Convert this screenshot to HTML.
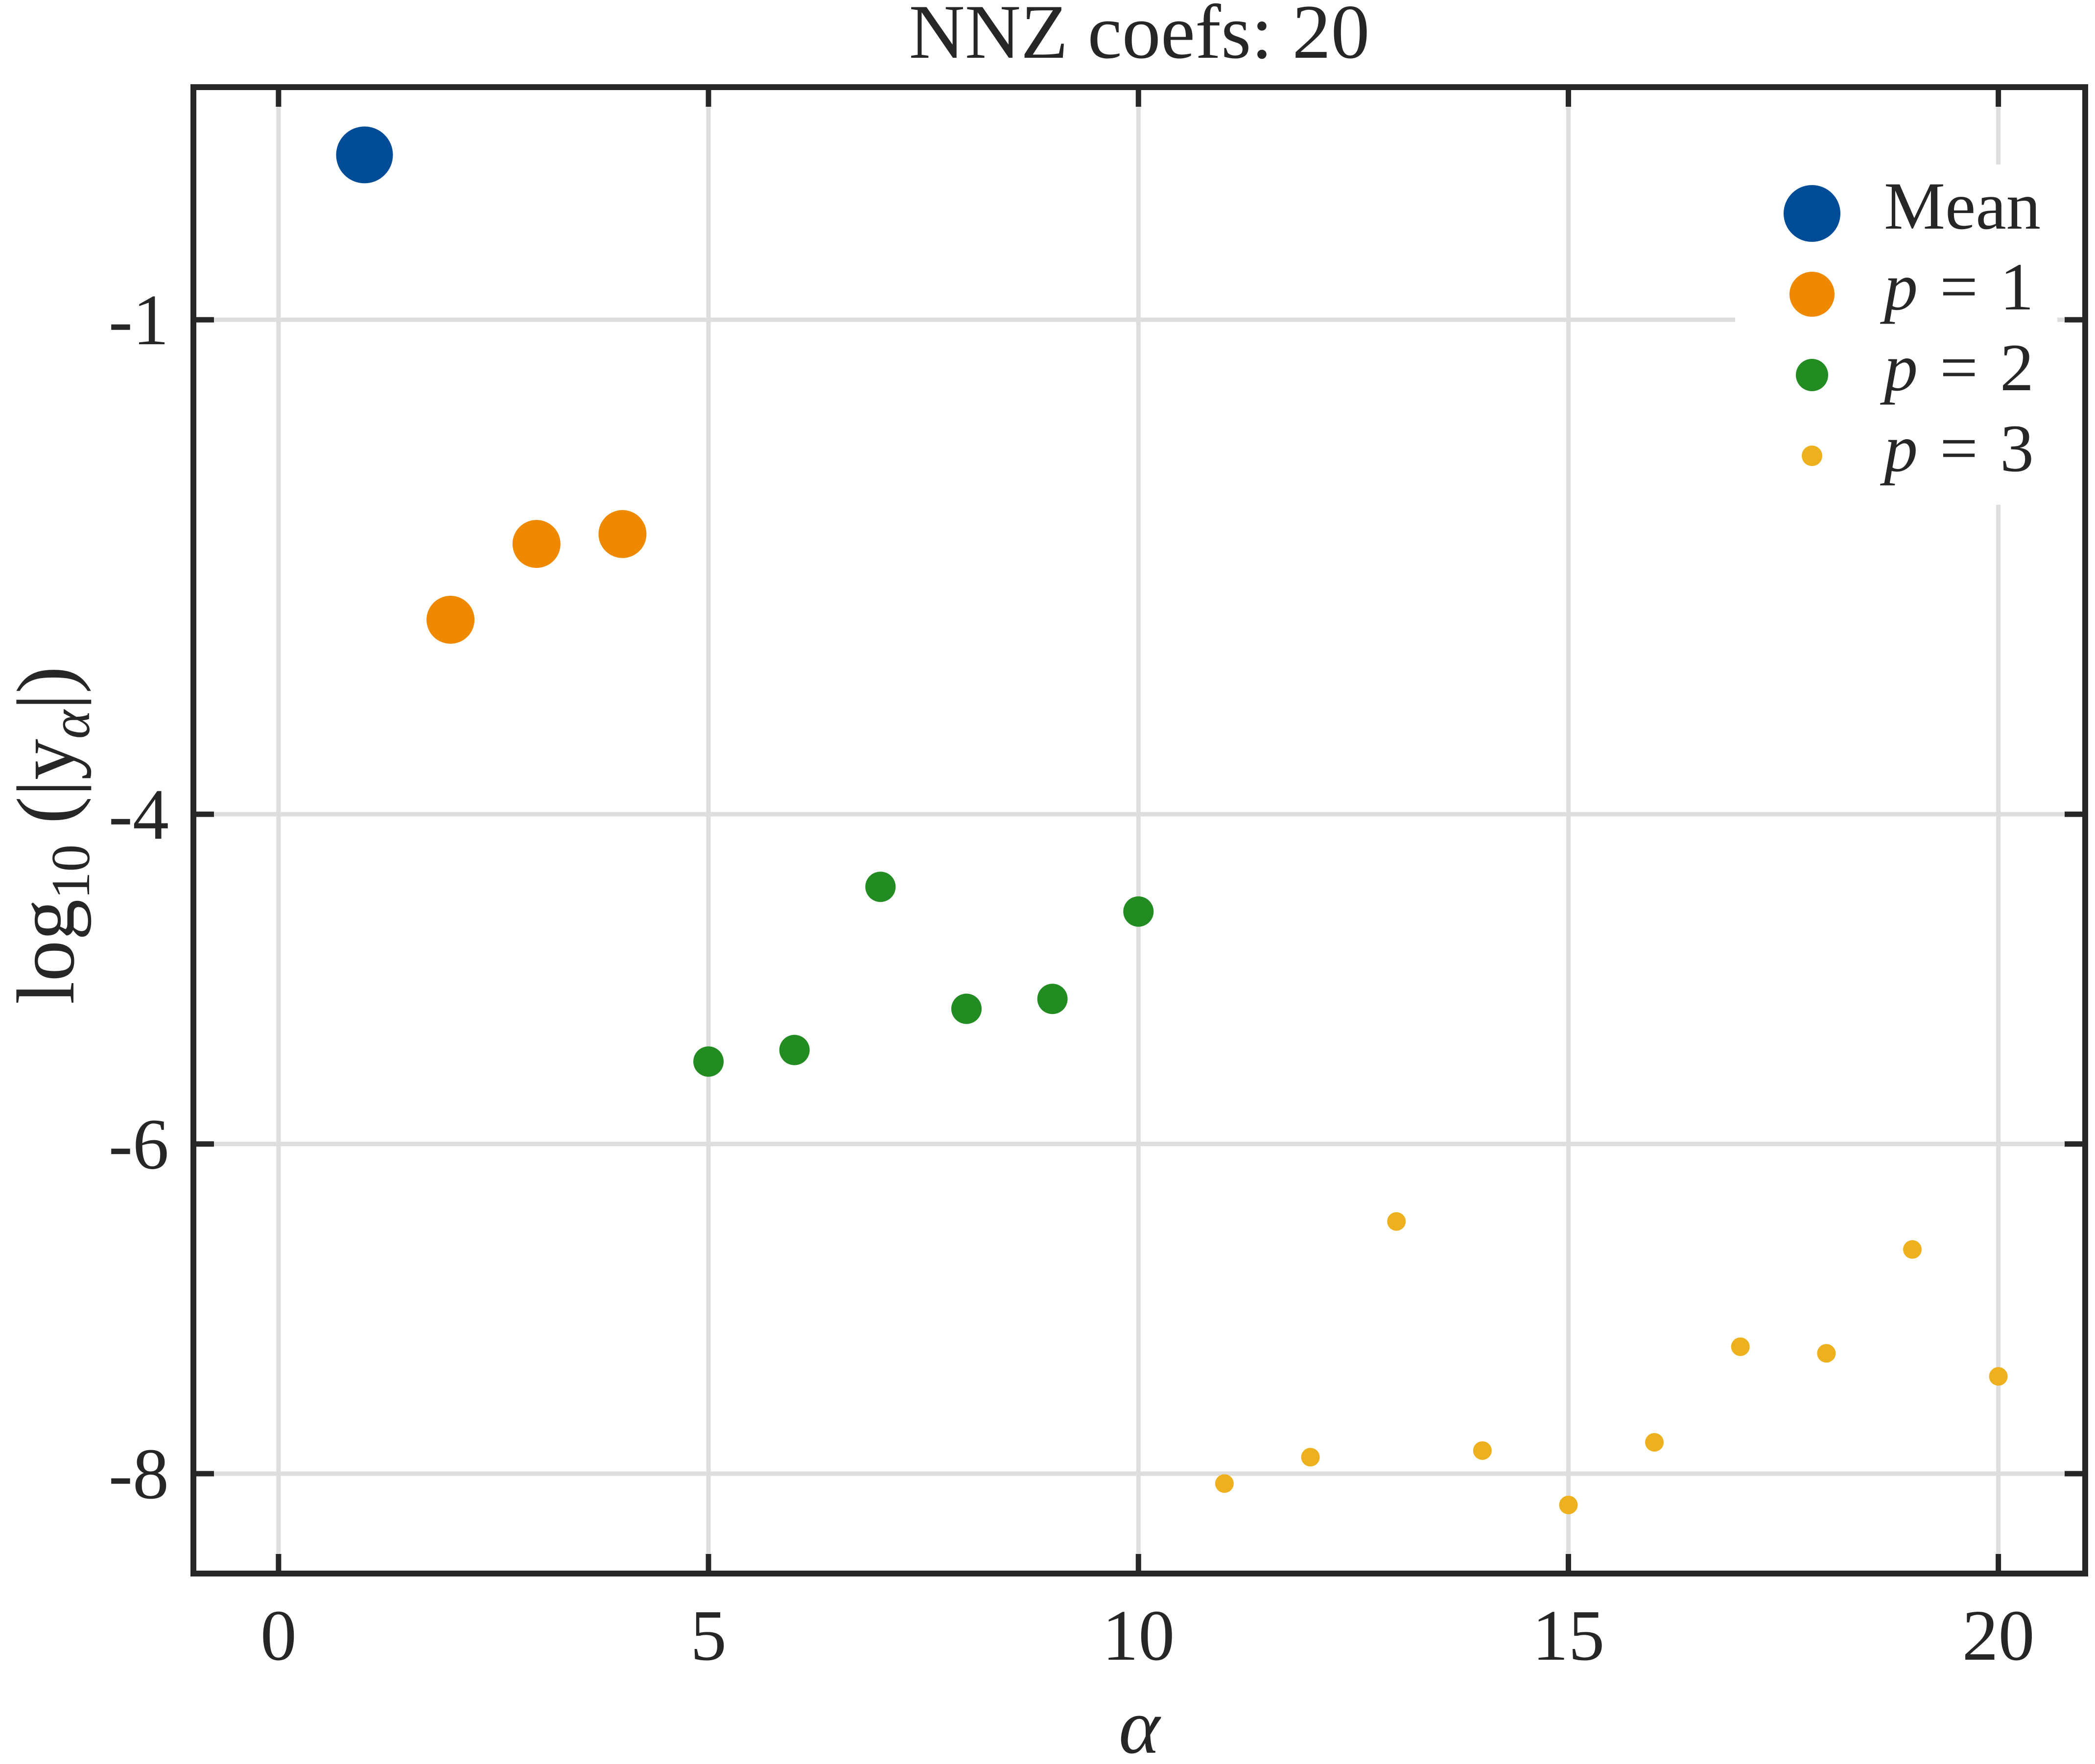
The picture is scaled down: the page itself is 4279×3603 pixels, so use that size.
<!DOCTYPE html>
<html><head><meta charset="utf-8"><style>
html,body{margin:0;padding:0;background:#fff;}
svg{display:block;}
text{font-family:"Liberation Serif","DejaVu Serif",serif;fill:#262626;}
</style></head><body>
<svg id="chart" width="4279" height="3603" viewBox="0 0 4279 3603" xmlns="http://www.w3.org/2000/svg">
<rect x="0" y="0" width="4279" height="3603" fill="#fff"/>
<g id="grid"></g>
<g id="marks"></g>
<rect x="3544" y="336" width="658" height="695" fill="#fff"/>
<g id="axes"></g>
<g id="legend">
  <circle cx="3701" cy="436" r="58" fill="#004C97"/>
  <text x="3848" y="467" font-size="138" textLength="320" lengthAdjust="spacingAndGlyphs">Mean</text>
  <circle cx="3701" cy="601" r="46" fill="#EF8A00"/>
  <text x="3848" y="632" font-size="138" textLength="306" lengthAdjust="spacing"><tspan font-style="italic">p</tspan> = 1</text>
  <circle cx="3701" cy="766" r="33" fill="#228B22"/>
  <text x="3848" y="797" font-size="138" textLength="306" lengthAdjust="spacing"><tspan font-style="italic">p</tspan> = 2</text>
  <circle cx="3701" cy="931" r="21" fill="#EDB120"/>
  <text x="3848" y="962" font-size="138" textLength="306" lengthAdjust="spacing"><tspan font-style="italic">p</tspan> = 3</text>
</g>
<text x="2327" y="118" font-size="158" text-anchor="middle" textLength="941" lengthAdjust="spacing">NNZ coefs: 20</text>
<text x="2327" y="3580" font-size="160" font-style="italic" text-anchor="middle">α</text>
<text transform="translate(150,1706) rotate(-90)" font-size="168" text-anchor="middle">log<tspan font-size="112" dy="32">10</tspan><tspan dy="-32"> (|y</tspan><tspan font-size="112" font-style="italic" dy="32">α</tspan><tspan dy="-32">|)</tspan></text>
</svg>
<script>
const meanX = [1];
const meanY = [0.0];
const p1X = [2, 3, 4];
const p1Y = [-2.82, -2.36, -2.30];
const p2X = [5, 6, 7, 8, 9, 10];
const p2Y = [-5.50, -5.43, -4.44, -5.18, -5.12, -4.59];
const p3X = [11, 12, 13, 14, 15, 16, 17, 18, 19, 20];
const p3Y = [-8.06, -7.90, -6.47, -7.86, -8.19, -7.81, -7.23, -7.27, -6.64, -7.41];
const xTicks = [0, 5, 10, 15, 20];
const xTickLabels = ["0", "5", "10", "15", "20"];
const yTicks = [-1, -4, -6, -8];
const yTickLabels = ["-1", "-4", "-6", "-8"];

const L = 395, R = 4259, T = 178, B = 3214;
const xMin = -0.99, xMax = 21.01, yMin = -8.606, yMax = 0.411;
function sx(v){ return L + (v - xMin) / (xMax - xMin) * (R - L); }
function sy(v){ return B - (v - yMin) / (yMax - yMin) * (B - T); }
const NS = "http://www.w3.org/2000/svg";
function mk(tag, attrs, parent){
  const e = document.createElementNS(NS, tag);
  for (const k in attrs) e.setAttribute(k, attrs[k]);
  parent.appendChild(e);
  return e;
}
const grid = document.getElementById('grid');
const axes = document.getElementById('axes');
const marks = document.getElementById('marks');

xTicks.forEach((t, i) => {
  const g = mk('line', {x1: sx(t), x2: sx(t), y1: T, y2: B, stroke: '#dedede', 'stroke-width': 9}, grid);
  
  
  const k1 = mk('line', {x1: sx(t), x2: sx(t), y1: T, y2: T + 40, stroke: '#262626', 'stroke-width': 11}, axes);
  
  
  const k2 = mk('line', {x1: sx(t), x2: sx(t), y1: B, y2: B - 40, stroke: '#262626', 'stroke-width': 11}, axes);
  
  
  const lb = mk('text', {x: sx(t), y: 3390, 'font-size': 148, 'text-anchor': 'middle'}, axes);
  lb.textContent = xTickLabels[i];
  
  
});
yTicks.forEach((t, i) => {
  const g = mk('line', {x1: L, x2: R, y1: sy(t), y2: sy(t), stroke: '#dedede', 'stroke-width': 9}, grid);
  
  
  const k1 = mk('line', {x1: L, x2: L + 42, y1: sy(t), y2: sy(t), stroke: '#262626', 'stroke-width': 11}, axes);
  
  
  const k2 = mk('line', {x1: R, x2: R - 42, y1: sy(t), y2: sy(t), stroke: '#262626', 'stroke-width': 11}, axes);
  
  
  const lb = mk('text', {x: 345, y: sy(t) + 50, 'font-size': 148, 'text-anchor': 'end'}, axes);
  lb.textContent = yTickLabels[i];
  
  
});
const frame = mk('rect', {x: L, y: T, width: R - L, height: B - T, fill: 'none', stroke: '#262626', 'stroke-width': 12}, axes);



function series(xs, ys, r, color, name){
  xs.forEach((x, i) => {
    const c = mk('circle', {cx: sx(x), cy: sy(ys[i]), r: r, fill: color}, marks);
    
    
  });
}
series(meanX, meanY, 58, '#004C97', 'point-mean');
series(p1X, p1Y, 49, '#EF8A00', 'point-p1');
series(p2X, p2Y, 31, '#228B22', 'point-p2');
series(p3X, p3Y, 19, '#EDB120', 'point-p3');
</script>
</body></html>
